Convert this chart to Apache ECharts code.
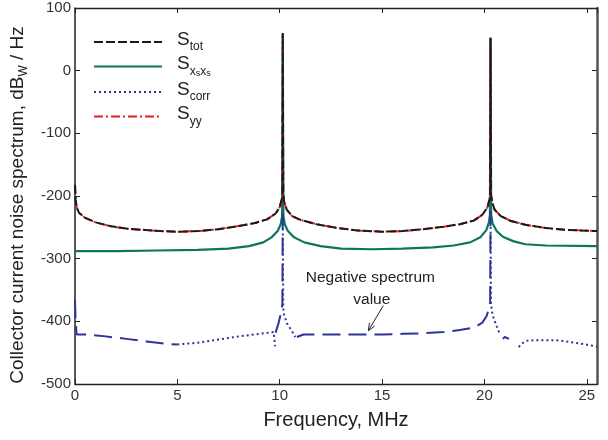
<!DOCTYPE html>
<html>
<head>
<meta charset="utf-8">
<script src="https://cdn.jsdelivr.net/npm/echarts@6/dist/echarts.min.js"></script>
<style>
html,body{margin:0;padding:0;background:#fff;}
#chart{width:608px;height:440px;}
</style>
</head>
<body>
<div id="chart"></div>
<script>
// ---- data (frequency in MHz, spectrum in dB_W/Hz) ----
const xTicks = [0, 5, 10, 15, 20, 25];
const yTicks = [100, 0, -100, -200, -300, -400, -500];

const totF = [0,0.03,0.08,0.2,0.5,1.0,1.7,2.5,3.3,4.2,5.0,6.0,7.0,8.0,8.8,9.4,9.8,10.0,10.1,10.13,10.15,10.17,10.22,10.35,10.6,11.0,11.8,12.8,13.8,15.0,16.0,17.0,18.0,18.8,19.5,19.9,20.15,20.25,20.28,20.3,20.32,20.38,20.5,20.8,21.3,22.0,23.0,24.0,25.5];
const totV = [-182,-205,-218,-227,-235,-242,-248,-252,-254,-256,-257,-256,-253,-248,-243,-237,-228,-218,-205,-195,60,-195,-210,-222,-232,-238,-245,-251,-255,-257,-256,-253,-249,-245,-239,-230,-218,-205,-198,53,-198,-210,-222,-232,-240,-246,-251,-254,-256];

const yyF = [0,0.03,0.08,0.2,0.5,1.0,1.7,2.5,3.3,4.2,5.0,6.0,7.0,8.0,8.8,9.4,9.8,10.0,10.1,10.13,10.15,10.17,10.22,10.35,10.6,11.0,11.8,12.8,13.8,15.0,16.0,17.0,18.0,18.8,19.5,19.9,20.15,20.25,20.28,20.3,20.32,20.38,20.5,20.8,21.3,22.0,23.0,24.0,25.5];
const yyV = [-182,-205,-218,-227,-235,-242,-248,-252,-254,-256,-257,-256,-253,-248,-243,-237,-228,-218,-205,-196,58,-196,-210,-222,-232,-238,-245,-251,-255,-257,-256,-253,-249,-245,-239,-230,-218,-205,-199,51,-199,-210,-222,-232,-240,-246,-251,-254,-256];

const xsF = [0,2,4,6,7.5,8.5,9.2,9.6,9.9,10.05,10.12,10.15,10.18,10.25,10.4,10.7,11.2,12,13,14.5,16,17.5,18.5,19.3,19.8,20.1,20.22,20.27,20.3,20.33,20.4,20.6,20.9,21.4,22,23,25.5];
const xsV = [-288,-288,-287,-286,-284,-280,-274,-266,-256,-245,-232,58,-232,-245,-256,-266,-274,-280,-284,-285,-284,-282,-279,-274,-266,-254,-242,-230,52,-230,-244,-256,-265,-272,-277,-279,-280];

// S_corr, positive parts (dotted) — null separates segments
const corrPosF = [5.0,6.0,7.0,8.0,9.0,9.7,9.78,null,10.15,10.17,10.19,10.35,10.6,10.76,null,20.3,20.32,20.4,20.54,20.7,20.78,null,21.68,21.8,22.05,22.5,23.5,24.2,25.5];
const corrPosV = [-437,-434,-429,-424,-420,-417,-440,null,-228,-372,-387,-403,-416,-425,null,-225,-372,-390,-403,-416,-422,null,-441,-436,-431,-430,-430,-433,-440];

// S_corr, negative parts (dashed, plotted as |S|)
const corrNegF = [0,0.03,0.08,0.5,1.5,2.5,3.5,4.5,5.0,null,9.8,9.95,10.06,10.13,10.15,null,10.84,11.16,12,13,14,15,16,17,18,18.8,19.5,19.9,20.1,20.22,20.28,20.3,null,20.9,21.0,21.08,21.2];
const corrNegV = [-366,-400,-421,-421,-424,-428,-432,-436,-437,null,-418,-402,-387,-372,-228,null,-425,-421,-421,-421,-421,-421,-420,-419,-417,-414,-410,-402,-392,-380,-370,-225,null,-428,-425,-425,-428];

function zip(f, v) { return f.map((x, i) => (x === null ? [null, null] : [x, v[i]])); }

const subMap = {
  'S_tot': '{m|S}{s|tot}',
  'S_xsxs': '{m|S}{s|x}{ss|s}{s|x}{ss|s}',
  'S_corr': '{m|S}{s|corr}',
  'S_yy': '{m|S}{s|yy}'
};

const chart = echarts.init(document.getElementById('chart'));
const axisCol = '#222';
const font = 'Liberation Sans, Arial, sans-serif';

const option = {
  animation: false,
  backgroundColor: '#fff',
  textStyle: { fontFamily: font },
  grid: { left: 75, right: 11, top: 8, bottom: 56 },
  legend: {
    orient: 'vertical',
    left: 88,
    top: 25,
    itemWidth: 68,
    itemHeight: 14,
    itemGap: 1.5,
    itemStyle: { opacity: 0 },
    data: ['S_tot', 'S_xsxs', 'S_corr', 'S_yy'],
    formatter: n => subMap[n],
    textStyle: {
      color: '#222',
      padding: [0, 0, 0, 10],
      rich: {
        m: { fontSize: 19, verticalAlign: 'bottom', padding: [0, 0, 5, 0], fontFamily: font, color: '#222' },
        s: { fontSize: 12, verticalAlign: 'bottom', padding: [0, 0, 1, 0], fontFamily: font, color: '#222' },
        ss: { fontSize: 9, verticalAlign: 'bottom', fontFamily: font, color: '#222' }
      }
    }
  },
  xAxis: [{
    type: 'value', min: 0, max: 25.5, interval: 5, position: 'bottom',
    name: 'Frequency, MHz', nameLocation: 'middle', nameGap: 26,
    nameTextStyle: { fontSize: 20, color: '#222', fontFamily: font },
    axisLine: { show: true, onZero: false, lineStyle: { color: axisCol, width: 1.3 } },
    axisTick: { inside: true, length: 5, lineStyle: { color: axisCol } },
    axisLabel: { fontSize: 15, color: '#333', margin: 4, showMaxLabel: false, fontFamily: font,
      formatter: v => (xTicks.indexOf(v) >= 0 ? String(v) : '') },
    splitLine: { show: false }
  }, {
    type: 'value', min: 0, max: 25.5, interval: 5, position: 'top',
    axisLine: { show: true, onZero: false, lineStyle: { color: axisCol, width: 1.3 } },
    axisTick: { inside: true, length: 5, lineStyle: { color: axisCol } },
    axisLabel: { show: false }, splitLine: { show: false }
  }],
  yAxis: [{
    type: 'value', min: -500, max: 100, interval: 100, position: 'left',
    name: '{a|Collector current noise spectrum, dB}{b|W}{a| / Hz}',
    nameLocation: 'middle', nameGap: 37,
    nameTextStyle: {
      padding: [0, 18, 0, 0],
      rich: {
        a: { fontSize: 19, color: '#222', fontFamily: font, verticalAlign: 'bottom', padding: [0, 0, 3, 0] },
        b: { fontSize: 12, color: '#222', fontFamily: font, verticalAlign: 'bottom' }
      }
    },
    axisLine: { show: true, onZero: false, lineStyle: { color: axisCol, width: 1.5 } },
    axisTick: { inside: true, length: 5, lineStyle: { color: axisCol } },
    axisLabel: { fontSize: 15, color: '#333', margin: 4, fontFamily: font,
      formatter: v => (yTicks.indexOf(v) >= 0 ? String(v) : '') },
    splitLine: { show: false }
  }, {
    type: 'value', min: -500, max: 100, interval: 100, position: 'right',
    axisLine: { show: true, onZero: false, lineStyle: { color: '#555', width: 2.5 } },
    axisTick: { inside: true, length: 5, lineStyle: { color: axisCol } },
    axisLabel: { show: false }, splitLine: { show: false }
  }],
  series: [
    { name: 'S_xsxs', type: 'line', showSymbol: false, symbol: 'none', z: 2,
      data: zip(xsF, xsV), color: '#0b7560',
      lineStyle: { color: '#0b7560', width: 2.2 } },
    { name: 'S_corr', type: 'line', showSymbol: false, symbol: 'none', z: 3, connectNulls: false,
      data: zip(corrPosF, corrPosV), color: '#2c3499',
      lineStyle: { color: '#2c3499', width: 2, type: [2, 3] } },
    { name: 'S_corr_neg', type: 'line', showSymbol: false, symbol: 'none', z: 3, connectNulls: false,
      data: zip(corrNegF, corrNegV), color: '#2c3499',
      lineStyle: { color: '#2c3499', width: 2, type: [18, 8] } },
    { name: 'S_yy', type: 'line', showSymbol: false, symbol: 'none', z: 4,
      data: zip(yyF, yyV), color: '#e3201e',
      lineStyle: { color: '#e3201e', width: 2, type: [9, 3, 2, 3] } },
    { name: 'S_tot', type: 'line', showSymbol: false, symbol: 'none', z: 5,
      data: zip(totF, totV), color: '#1a1a1a',
      lineStyle: { color: '#1a1a1a', width: 2, type: [9, 3] } }
  ]
};
chart.setOption(option);

// annotation
const c1 = chart.convertToPixel({ xAxisIndex: 0, yAxisIndex: 0 }, [14.43, -331]);
const c2 = chart.convertToPixel({ xAxisIndex: 0, yAxisIndex: 0 }, [14.5, -366]);
const a1 = chart.convertToPixel({ xAxisIndex: 0, yAxisIndex: 0 }, [15.06, -375]);
const a2 = chart.convertToPixel({ xAxisIndex: 0, yAxisIndex: 0 }, [14.33, -415]);
const ang = Math.atan2(a2[1] - a1[1], a2[0] - a1[0]);
const hl = 8, hw = 0.4;
chart.setOption({
  graphic: [
    { type: 'text', x: c1[0], y: c1[1], style: { text: 'Negative spectrum', fontSize: 15.5, fill: '#222', fontFamily: font, align: 'center', verticalAlign: 'middle' } },
    { type: 'text', x: c2[0], y: c2[1], style: { text: 'value', fontSize: 15.5, fill: '#222', fontFamily: font, align: 'center', verticalAlign: 'middle' } },
    { type: 'line', shape: { x1: a1[0], y1: a1[1], x2: a2[0], y2: a2[1] }, style: { stroke: '#222', lineWidth: 1 } },
    { type: 'polyline', shape: { points: [
        [a2[0] - hl * Math.cos(ang - hw), a2[1] - hl * Math.sin(ang - hw)],
        [a2[0], a2[1]],
        [a2[0] - hl * Math.cos(ang + hw), a2[1] - hl * Math.sin(ang + hw)]
      ] }, style: { stroke: '#222', lineWidth: 1, fill: null } }
  ]
});
</script>
</body>
</html>
